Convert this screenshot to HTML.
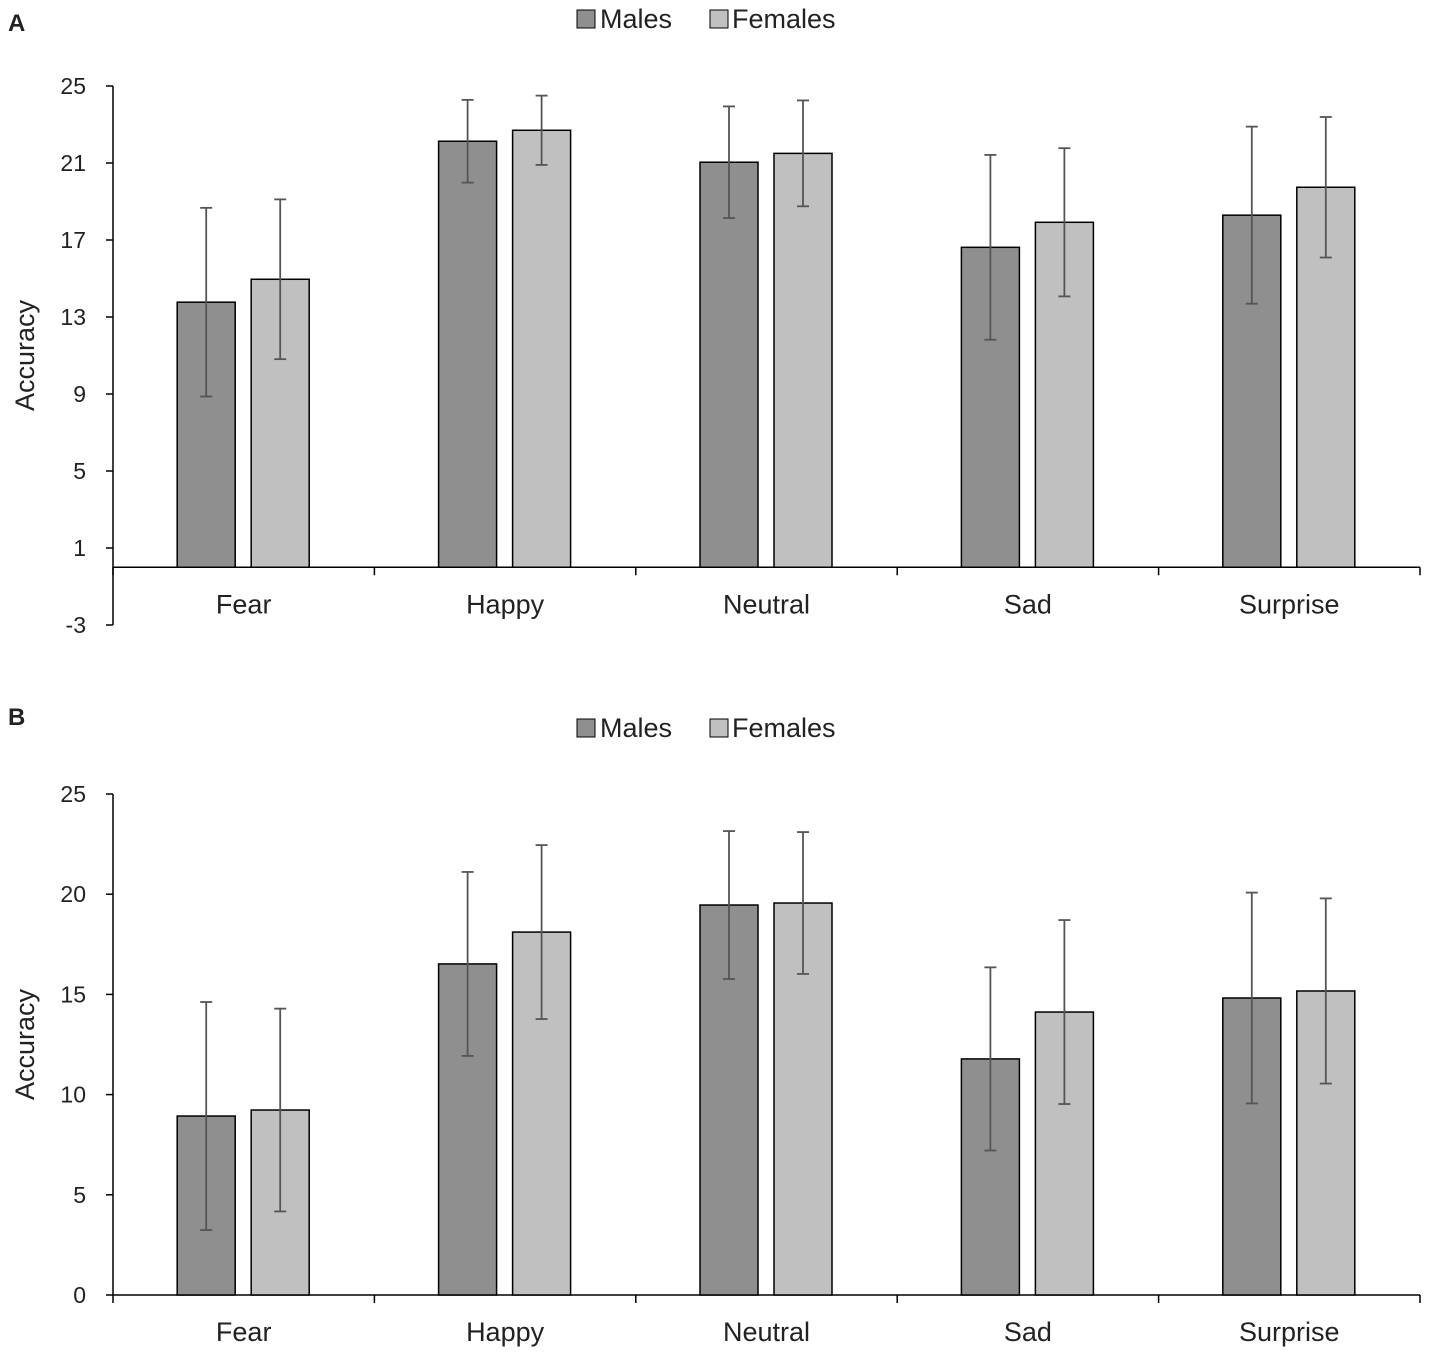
<!DOCTYPE html>
<html><head><meta charset="utf-8"><style>
body{margin:0;background:#fff}
svg text{font-family:"Liberation Sans",Arial,sans-serif;fill:#222}
</style></head><body>
<svg id="c" width="1429" height="1355" xmlns="http://www.w3.org/2000/svg"></svg>
<script>
const categories=["Fear","Happy","Neutral","Sad","Surprise"];
const maleA=[13.77,22.13,21.04,16.62,18.29];
const maleAErr=[4.9,2.15,2.9,4.8,4.6];
const femaleA=[14.96,22.7,21.5,17.92,19.74];
const femaleAErr=[4.15,1.8,2.75,3.85,3.65];
const ticksA=[-3,1,5,9,13,17,21,25];
const maleB=[8.93,16.52,19.46,11.78,14.82];
const maleBErr=[5.69,4.59,3.69,4.57,5.26];
const femaleB=[9.23,18.11,19.56,14.12,15.17];
const femaleBErr=[5.06,4.34,3.54,4.59,4.62];
const ticksB=[0,5,10,15,20,25];

const svg=document.getElementById('c');
const NS="http://www.w3.org/2000/svg";
function mk(tag,attrs,parent){const e=document.createElementNS(NS,tag);for(const k in attrs)e.setAttribute(k,attrs[k]);(parent||svg).appendChild(e);return e;}

function panel(id,letter,letterY,legY,yMin,yMax,yTopPx,yBotPx,ticks,m,mE,f,fE){
  const g=mk('g',{});
  
  
  const y=v=>yBotPx-(v-yMin)/(yMax-yMin)*(yBotPx-yTopPx);
  const x0=113,x1=1420,cw=(x1-x0)/categories.length;
  const lt=mk('text',{x:8,y:letterY,'font-size':24,'font-weight':'bold'},g);lt.textContent=letter;
  
  
  const lg=mk('g',{},g);
  
  
  mk('rect',{x:577,y:legY-18,width:18,height:18,fill:'#8f8f8f',stroke:'#000','stroke-width':1},lg);
  const t1=mk('text',{x:600,y:legY,'font-size':27},lg);t1.textContent='Males';
  mk('rect',{x:710,y:legY-18,width:18,height:18,fill:'#c0c0c0',stroke:'#000','stroke-width':1},lg);
  const t2=mk('text',{x:732,y:legY,'font-size':27},lg);t2.textContent='Females';
  mk('line',{x1:x0,y1:y(ticks[ticks.length-1]),x2:x0,y2:y(ticks[0]),stroke:'#000','stroke-width':1.5},g);
  ticks.forEach(t=>{
    mk('line',{x1:x0-7,y1:y(t),x2:x0,y2:y(t),stroke:'#000','stroke-width':1.5},g);
    const tx=mk('text',{x:86,y:y(t)+8,'font-size':23,'text-anchor':'end'},g);tx.textContent=t;
    
    
  });
  const yt=mk('text',{x:0,y:0,'font-size':27,'text-anchor':'middle',transform:`translate(34,${(y(ticks[0])+y(ticks[ticks.length-1]))/2}) rotate(-90)`},g);
  yt.textContent='Accuracy';
  
  
  const ya=y(0);
  mk('line',{x1:x0,y1:ya,x2:x1,y2:ya,stroke:'#000','stroke-width':1.5},g);
  for(let i=0;i<=categories.length;i++){
    mk('line',{x1:x0+i*cw,y1:ya,x2:x0+i*cw,y2:ya+8,stroke:'#000','stroke-width':1.5},g);
  }
  categories.forEach((c,i)=>{
    const cx=x0+(i+0.5)*cw;
    const lb=mk('text',{x:cx,y:ya+46,'font-size':27,'text-anchor':'middle'},g);lb.textContent=c;
    
    
    [[m,mE,'#8f8f8f',-66.5,'male'],[f,fE,'#c0c0c0',7.5,'female']].forEach(([vals,errs,col,off,nm])=>{
      const v=vals[i],bx=cx+off;
      const r=mk('rect',{x:bx,y:y(v),width:58,height:ya-y(v),fill:col,stroke:'#000','stroke-width':1.5},g);
      
      
      const ex=bx+29;
      mk('line',{x1:ex,y1:y(v+errs[i]),x2:ex,y2:y(v-errs[i]),stroke:'#555','stroke-width':1.8},g);
      mk('line',{x1:ex-6,y1:y(v+errs[i]),x2:ex+6,y2:y(v+errs[i]),stroke:'#555','stroke-width':1.8},g);
      mk('line',{x1:ex-6,y1:y(v-errs[i]),x2:ex+6,y2:y(v-errs[i]),stroke:'#555','stroke-width':1.8},g);
    });
  });
}
panel('a','A',31,28,-3,25,86,625,ticksA,maleA,maleAErr,femaleA,femaleAErr);
panel('b','B',725,737,0,25,794,1295,ticksB,maleB,maleBErr,femaleB,femaleBErr);
</script>
</body></html>
